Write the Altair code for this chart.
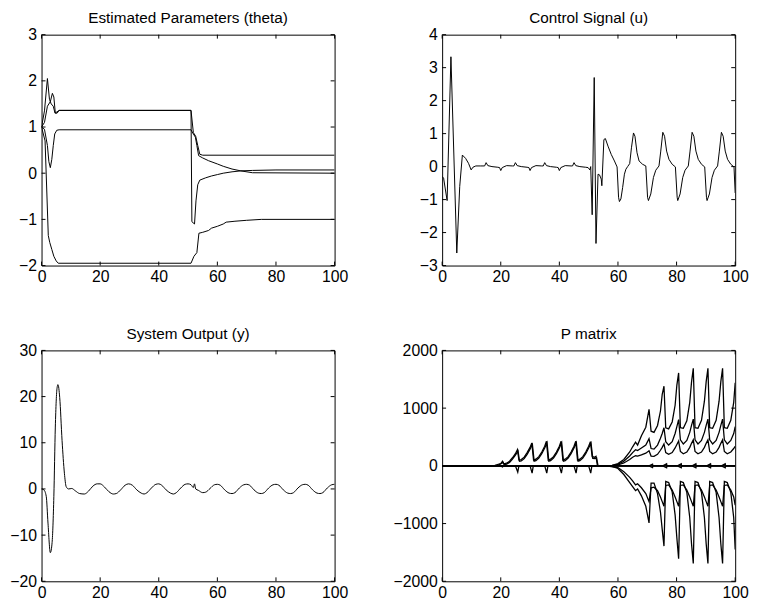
import altair as alt
import pandas as pd

FONT = "Liberation Sans"
XTICKS = [0, 20, 40, 60, 80, 100]

# ---------------- Estimated Parameters (theta) ----------------
TH_YTICKS = [-2, -1, 0, 1, 2, 3]
theta_a = [(0, 1.0), (1, 1.35), (2, 2.05), (2.7, 1.6), (3.3, 1.5), (4, 1.45), (4.6, 1.3),
           (5.3, 1.33), (6, 1.36), (51, 1.36), (51.8, 0.88), (52.6, 0.8), (53.3, 0.6),
           (54, 0.41), (55, 0.39), (100, 0.39)]
theta_b = [(0, 1.0), (1, 1.1), (2, 1.45), (3, 1.55), (3.7, 1.73), (4.2, 1.65), (4.7, 1.3),
           (5.3, 1.3), (6, 1.36), (51, 1.36), (51.3, -1.05), (52.2, -1.1), (52.7, -0.6),
           (53.3, -0.25), (54, -0.15), (56, -0.1), (58, -0.06), (60, -0.03), (62, 0.0),
           (65, 0.03), (68, 0.05), (72, 0.06), (80, 0.07), (100, 0.07)]
theta_c = [(0, 1.0), (1, 0.95), (2, 0.6), (2.5, 0.25), (3, 0.12), (3.5, 0.3), (4, 0.6),
           (4.5, 0.85), (5.2, 0.93), (6, 0.94), (51, 0.94), (51.6, 0.87), (52.5, 0.78),
           (53, 0.6), (53.6, 0.38), (55, 0.33), (57, 0.27), (60, 0.2), (62, 0.15),
           (65, 0.09), (68, 0.05), (72, 0.01), (100, 0.0)]
theta_d = [(0, 1.0), (1.2, 0.7), (2.3, -1.35), (2.8, -1.5), (3.5, -1.65), (4.2, -1.8),
           (5, -1.9), (5.7, -1.95), (51, -1.95), (52, -1.8), (53, -1.72), (53.7, -1.3),
           (55, -1.28), (57, -1.24), (58, -1.19), (60, -1.15), (62, -1.1), (63, -1.06),
           (66, -1.04), (70, -1.02), (75, -1.0), (100, -1.0)]

# ---------------- Control Signal (u) ----------------
U_YTICKS = [-3, -2, -1, 0, 1, 2, 3, 4]
u_sig = [(0, -0.3), (0.5, -0.35), (1.7, -1.03), (3.0, 3.33), (5.0, -2.62), (6.0, -0.6),
         (6.9, 0.35), (8.0, 0.25), (9.0, 0.1), (9.9, -0.1), (10.5, -0.02), (11.5, 0.02),
         (13, 0.02), (14.5, 0.02), (15, 0.12), (15.6, 0.03), (17, 0.0), (19, -0.02),
         (19.6, -0.03), (20, -0.12), (20.5, -0.03), (22, 0.03), (24, 0.02), (24.5, 0.02),
         (25, 0.12), (25.6, 0.03), (27, 0.0), (29, -0.02), (29.6, -0.03), (30, -0.12),
         (30.5, -0.03), (32, 0.03), (34, 0.02), (34.5, 0.02), (35, 0.12), (35.6, 0.03),
         (37, 0.0), (39, -0.02), (39.6, -0.03), (40, -0.12), (40.5, -0.03), (42, 0.03),
         (44, 0.02), (44.5, 0.02), (45, 0.12), (45.6, 0.03), (47, 0.0), (49, -0.02),
         (49.8, -0.03), (50.4, -0.1), (50.7, 0.0), (51.2, -1.46), (51.9, 2.7), (52.5, -2.33),
         (53.2, -0.23), (53.7, -0.25), (54.3, -0.38), (54.5, -0.58), (55.2, 0.82),
         (55.7, 0.85), (56.6, 0.62), (57.7, 0.37), (58.8, 0.17), (59.7, -0.01), (60.2, -0.93),
         (60.5, -1.06), (61, -0.98), (61.6, -0.63), (62.2, -0.23), (62.7, -0.08), (63.3, 0.0),
         (64, 0.09), (64.6, 0.57), (65.3, 1.02), (65.8, 0.92), (66.5, 0.42), (67.2, 0.17),
         (68.4, 0.07), (69.5, 0.02), (70.1, -0.93), (70.4, -1.03), (71.2, -0.83),
         (72.1, -0.33), (72.9, -0.11), (74, 0.02), (74.6, 0.47), (75.3, 1.04), (75.9, 0.92),
         (76.6, 0.47), (77.4, 0.22), (78.5, 0.07), (79.6, -0.01), (80.2, -0.93),
         (80.4, -1.03), (81.2, -0.83), (82.1, -0.33), (82.9, -0.11), (84, 0.02), (84.6, 0.47),
         (85.3, 1.04), (85.9, 0.92), (86.6, 0.47), (87.4, 0.22), (88.5, 0.07), (89.6, -0.01),
         (90.2, -0.93), (90.4, -1.03), (91.2, -0.83), (92.1, -0.33), (92.9, -0.11), (94, 0.02),
         (94.6, 0.47), (95.3, 1.04), (95.9, 0.92), (96.6, 0.47), (97.4, 0.22), (98.5, 0.07),
         (99.6, -0.01), (100, -0.8)]

# ---------------- System Output (y) ----------------
Y_YTICKS = [-20, -10, 0, 10, 20, 30]
y_out = [(0, 0), (0.8, -0.2), (1.6, -1.6), (2.2, -7.4), (3.0, -13.8), (3.6, -11.6),
         (4.2, -1.6), (4.7, 13.4), (5.3, 21.9), (5.6, 22.6), (6.2, 19.8), (7.0, 10.5),
         (7.8, 3.4), (8.4, 0.5), (9.2, 0.0), (10.3, 0.1), (11.5, -0.4), (13, -1.0),
         (14.6, -1.1), (16, -0.5), (17.5, 0.6), (19, 1.1), (20, 1.1), (21.5, 0.4),
         (23, -0.6), (24.5, -1.1), (25.5, -1.0), (27, -0.2), (28.5, 0.8), (29.7, 1.1),
         (31, 0.8), (32.5, -0.2), (34, -0.9), (35, -1.1), (36, -0.8), (37.5, 0.2), (39, 1.0),
         (40, 1.1), (41, 0.8), (42.5, -0.2), (44, -0.9), (45, -1.1), (46, -0.8), (47.5, 0.2),
         (49, 1.0), (50, 1.1), (51, 0.9), (51.8, 0.3), (52.2, 1.1), (52.6, 0.0), (53.5, -0.3),
         (55, -0.8), (56, -0.7), (57.5, 0.1), (59, 0.9), (60, 1.0), (61, 0.8), (62.5, -0.2),
         (64, -0.9), (65, -1.0), (66, -0.8), (67.5, 0.2), (69, 0.9), (70, 1.0), (71, 0.8),
         (72.5, -0.2), (74, -0.9), (75, -1.0), (76, -0.8), (77.5, 0.2), (79, 0.9), (80, 1.0),
         (81, 0.8), (82.5, -0.2), (84, -0.9), (85, -1.0), (86, -0.8), (87.5, 0.2), (89, 0.9),
         (90, 1.0), (91, 0.8), (92.5, -0.2), (94, -0.9), (95, -1.0), (96, -0.8), (97.5, 0.2),
         (99, 0.9), (100, 1.0)]

# ---------------- P matrix ----------------
P_YTICKS = [-2000, -1000, 0, 1000, 2000]
p_top = [(0, 0), (15, 0), (18, 10), (20, 40), (20.6, 80), (21, 35), (22, 45), (23, 80),
         (24, 140), (25, 210), (25.7, 280), (26.2, 100), (27, 110), (28, 150), (29, 230),
         (30, 320), (30.6, 395), (31.2, 100), (32, 115), (33, 160), (34, 240), (35, 340),
         (35.6, 425), (36.2, 100), (37, 115), (38, 160), (39, 240), (40, 340), (40.6, 425),
         (41.2, 100), (42, 115), (43, 160), (44, 240), (45, 340), (45.6, 425), (46.2, 100),
         (47, 115), (48, 160), (49, 240), (50, 340), (50.6, 420), (51.2, 160), (52, 150),
         (52.5, 165), (53, 0), (55, 0), (58, 10), (60, 40), (62, 110), (64, 240), (65, 330),
         (66, 410), (66.7, 360), (68, 520), (69.5, 670), (70.6, 980), (71.3, 600),
         (72.3, 580), (73.5, 700), (74.5, 950), (75.1, 1240), (75.7, 1380), (76.3, 660),
         (77.3, 640), (78.5, 760), (79.5, 1050), (80.1, 1400), (80.7, 1610), (81.3, 660),
         (82.3, 650), (83.5, 780), (84.5, 1100), (85.1, 1450), (85.7, 1690), (86.3, 660),
         (87.3, 650), (88.5, 790), (89.5, 1120), (90.1, 1460), (90.7, 1690), (91.3, 660),
         (92.3, 650), (93.5, 790), (94.5, 1120), (95.1, 1460), (95.7, 1690), (96.3, 660),
         (97.3, 650), (98.5, 790), (99.5, 1100), (100, 1440)]
p_twin = [(0, 0), (16, 0), (19, 5), (20.8, 60), (21.2, 20), (22, 30), (23, 60), (24, 115),
          (25, 185), (25.9, 255), (26.4, 80), (27, 85), (28, 125), (29, 200), (30, 290),
          (30.8, 370), (31.4, 80), (32, 90), (33, 135), (34, 210), (35, 310), (35.8, 400),
          (36.4, 80), (37, 90), (38, 135), (39, 210), (40, 310), (40.8, 400), (41.4, 80),
          (42, 90), (43, 135), (44, 210), (45, 310), (45.8, 400), (46.4, 80), (47, 90),
          (48, 135), (49, 210), (50, 310), (50.8, 395), (51.4, 130), (52.2, 125),
          (52.7, 140), (53.2, 0), (100, 0)]
p_mid = [(0, 0), (56, 0), (58, 5), (60, 25), (62, 80), (64, 170), (65, 230), (66, 280),
         (66.7, 265), (68, 310), (69.5, 360), (70.6, 470), (71.3, 300), (72.3, 290),
         (73.5, 360), (74.5, 480), (75.1, 560), (75.7, 660), (76.3, 420), (77.3, 360),
         (78.5, 420), (79.5, 560), (80.1, 680), (80.7, 800), (81.3, 450), (82.3, 380),
         (83.5, 440), (84.5, 580), (85.1, 700), (85.7, 810), (86.3, 450), (87.3, 380),
         (88.5, 440), (89.5, 580), (90.1, 700), (90.7, 810), (91.3, 450), (92.3, 380),
         (93.5, 440), (94.5, 580), (95.1, 700), (95.7, 810), (96.3, 450), (97.3, 380),
         (98.5, 440), (99.5, 560), (100, 680)]
p_low = [(0, 0), (57, 0), (60, 15), (62, 50), (64, 110), (65, 150), (66, 175), (66.7, 168),
         (68, 190), (69.5, 220), (70.6, 260), (71.3, 170), (72.3, 165), (73.5, 200),
         (74.5, 270), (75.1, 320), (75.7, 380), (76.3, 230), (77.3, 200), (78.5, 230),
         (79.5, 310), (80.1, 370), (80.7, 430), (81.3, 250), (82.3, 210), (83.5, 240),
         (84.5, 320), (85.1, 390), (85.7, 450), (86.3, 250), (87.3, 210), (88.5, 240),
         (89.5, 320), (90.1, 390), (90.7, 450), (91.3, 250), (92.3, 210), (93.5, 240),
         (94.5, 320), (95.1, 390), (95.7, 450), (96.3, 250), (97.3, 210), (98.5, 240),
         (99.5, 300), (100, 340)]
n_deep = [(0, 0), (55, 0), (58, -10), (60, -45), (62, -150), (64, -290), (65, -360),
          (66, -430), (66.7, -400), (68, -520), (69.5, -700), (70.6, -990), (71.3, -300),
          (72.3, -300), (73.5, -480), (74.5, -800), (75.1, -1100), (75.7, -1390),
          (76.3, -270), (77.3, -290), (78.5, -450), (79.5, -850), (80.1, -1250),
          (80.7, -1610), (81.3, -270), (82.3, -290), (83.5, -460), (84.5, -900),
          (85.1, -1350), (85.7, -1690), (86.3, -270), (87.3, -290), (88.5, -460),
          (89.5, -900), (90.1, -1350), (90.7, -1690), (91.3, -270), (92.3, -290),
          (93.5, -460), (94.5, -900), (95.1, -1350), (95.7, -1690), (96.3, -270),
          (97.3, -290), (98.5, -460), (99.5, -900), (100, -1450)]
n_mid = [(0, 0), (56, 0), (60, -30), (62, -100), (64, -200), (65, -260), (66, -330),
         (66.7, -310), (68, -380), (69.5, -480), (70.6, -620), (71.3, -380), (72.3, -370),
         (73.5, -430), (74.5, -540), (75.1, -620), (75.7, -700), (76.3, -340), (77.3, -330),
         (78.5, -420), (79.5, -540), (80.1, -620), (80.7, -700), (81.3, -340), (82.3, -330),
         (83.5, -420), (84.5, -540), (85.1, -620), (85.7, -700), (86.3, -340), (87.3, -330),
         (88.5, -420), (89.5, -540), (90.1, -620), (90.7, -700), (91.3, -340), (92.3, -330),
         (93.5, -420), (94.5, -540), (95.1, -620), (95.7, -700), (96.3, -340), (97.3, -330),
         (98.5, -420), (99.5, -540), (100, -680)]
n_small = [(0, 0), (20, 0), (20.6, -20), (21, 0), (25, 0), (25.8, -110), (26.2, 0), (30, 0),
           (30.7, -125), (31.1, 0), (35, 0), (35.7, -125), (36.1, 0), (40, 0), (40.7, -125),
           (41.1, 0), (45, 0), (45.7, -125), (46.1, 0), (50, 0), (50.7, -125), (51.1, 0),
           (100, 0)]
z_pos = [(0, 0), (70.6, 0), (71.8, 30), (71.9, 0), (75.3, 0), (76.6, 35), (76.7, 0),
         (80.3, 0), (81.6, 35), (81.7, 0), (85.3, 0), (86.6, 35), (86.7, 0), (90.3, 0),
         (91.6, 35), (91.7, 0), (95.3, 0), (96.6, 35), (96.7, 0), (100, 0)]
z_neg = [(0, 0), (70.6, 0), (71.8, -30), (71.9, 0), (75.3, 0), (76.6, -35), (76.7, 0),
         (80.3, 0), (81.6, -35), (81.7, 0), (85.3, 0), (86.6, -35), (86.7, 0), (90.3, 0),
         (91.6, -35), (91.7, 0), (95.3, 0), (96.6, -35), (96.7, 0), (100, 0)]

W, H = 297, 234
TK = 4  # inward tick length in px


def frame(series):
    rows = []
    for name, pts in series.items():
        for i, (t, v) in enumerate(pts):
            rows.append({"s": name, "t": t, "v": v, "o": i})
    return pd.DataFrame(rows)


def panel(series, title, ydom, yticks, sw=1.0, interp="linear"):
    xs = alt.Scale(domain=[0, 100], nice=False, zero=False)
    ys = alt.Scale(domain=ydom, nice=False, zero=False)
    common = dict(title=None, grid=False, domain=False, ticks=False, labelFlush=False,
                  labelOverlap=False, format="d", labelFont=FONT, labelFontSize=16,
                  labelColor="black")
    xaxis = alt.Axis(values=XTICKS, labelPadding=3, **common)
    yaxis = alt.Axis(values=yticks, labelPadding=5, **common)
    xe = alt.X("t:Q", scale=xs, axis=xaxis)
    ye = alt.Y("v:Q", scale=ys, axis=yaxis)
    lines = alt.Chart(frame(series)).mark_line(
        color="black", strokeWidth=sw, interpolate=interp, clip=True
    ).encode(x=xe, y=ye, detail="s:N", order="o:Q")
    xt = pd.DataFrame({"t": XTICKS})
    yt = pd.DataFrame({"v": yticks})
    rule = dict(color="black", strokeWidth=1)
    top = alt.Chart(xt).mark_rule(**rule).encode(x=xe, y=alt.value(0), y2=alt.value(TK))
    bot = alt.Chart(xt).mark_rule(**rule).encode(x=xe, y=alt.value(H - TK), y2=alt.value(H))
    lef = alt.Chart(yt).mark_rule(**rule).encode(y=ye, x=alt.value(0), x2=alt.value(TK))
    rig = alt.Chart(yt).mark_rule(**rule).encode(y=ye, x=alt.value(W - TK), x2=alt.value(W))
    return alt.layer(lines, top, bot, lef, rig).properties(
        width=W, height=H,
        title=alt.TitleParams(title, font=FONT, fontSize=15.5, fontWeight="normal",
                              color="black", anchor="middle", frame="group",
                              baseline="alphabetic", offset=-11.5),
    )


p1 = panel({"a": theta_a, "b": theta_b, "c": theta_c, "d": theta_d},
           "Estimated Parameters (theta)", [-2, 3], TH_YTICKS)
p2 = panel({"u": u_sig}, "Control Signal (u)", [-3, 4], U_YTICKS)
p3 = panel({"y": y_out}, "System Output (y)", [-20, 30], Y_YTICKS, interp="monotone")
p4 = panel({"p1": p_top, "p1b": p_twin, "p2": p_mid, "p3": p_low, "n1": n_deep,
            "n2": n_mid, "n0": n_small, "zp": z_pos, "zn": z_neg},
           "P matrix", [-2000, 2000], P_YTICKS, sw=1.3)

chart = alt.concat(p1, p2, p3, p4, columns=2, spacing={"row": 86, "column": 109},
                   bounds="flush").properties(
    padding={"left": 1, "top": -2, "right": 0, "bottom": 0}
).configure_view(stroke="black", strokeWidth=1)

chart.save("out.html", embed_options={"renderer": "svg", "actions": False})
